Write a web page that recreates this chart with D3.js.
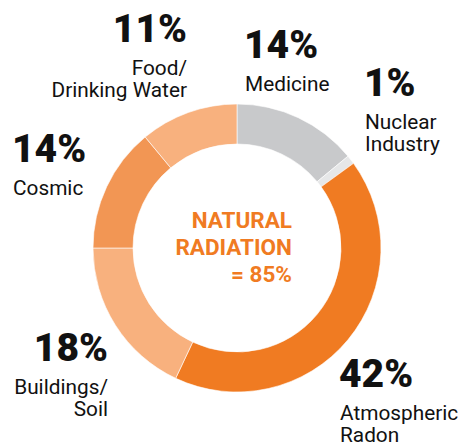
<!DOCTYPE html>
<html lang="en">
<head>
<meta charset="UTF-8">
<title>Radiation sources</title>
<script src="https://d3js.org/d3.v7.min.js"></script>
<style>
    body { margin: 0; background: #fff; }
    svg { display: block; }
    .pct { font-family: Roboto, sans-serif; font-weight: 900; font-size: 39px; fill: #111; }
    .lbl { font-family: Roboto, sans-serif; font-size: 20.8px; fill: #111; }
    .center { font-family: Roboto, sans-serif; font-weight: 700; font-size: 22.5px; fill: #f07b22; }
</style>
</head>
<body>
<div id="chart"></div>
<script>
    const width = 466, height = 446;

    // slices, clockwise from 12 o'clock
    const sources = ["Medicine", "Nuclear Industry", "Atmospheric Radon", "Buildings/Soil", "Cosmic", "Food/Drinking Water"];
    const shares = [14, 1, 42, 18, 14, 11];
    const colors = ["#c8c9cb", "#e6e7e8", "#f07b22", "#f8b17e", "#f29654", "#f8b17e"];

    // label text, lines of each label
    const labelLines = [["Medicine"], ["Nuclear", "Industry"], ["Atmospheric", "Radon"], ["Buildings/", "Soil"], ["Cosmic"], ["Food/", "Drinking Water"]];
    const centerLines = ["NATURAL", "RADIATION", "= 85%"];

    const cx = 237, cy = 248, rOuter = 144, rInner = 104;

    // where each label sits: x, baseline of percent, anchor
    const labelPos = [
        { x: 244, y: 58, anchor: "start" },
        { x: 364, y: 96, anchor: "start" },
        { x: 339, y: 387, anchor: "start" },
        { x: 108, y: 361, anchor: "end" },
        { x: 12, y: 162, anchor: "start" },
        { x: 187, y: 42, anchor: "end" }
    ];

    const svg = d3.select("#chart").append("svg")
        .attr("width", width)
        .attr("height", height);

    const pie = d3.pie().sort(null).value(d => d);
    const arc = d3.arc().innerRadius(rInner).outerRadius(rOuter);

    const g = svg.append("g").attr("transform", `translate(${cx},${cy})`);

    g.selectAll("path")
        .data(pie(shares))
        .enter()
        .append("path")
        .attr("d", arc)
        .attr("fill", (d, i) => colors[i])
        .attr("stroke", "#fff")
        .attr("stroke-width", 0.6);

    // centre text
    g.append("text")
        .attr("class", "center")
        .attr("text-anchor", "end")
        .selectAll("tspan")
        .data(centerLines)
        .enter()
        .append("tspan")
        .attr("x", 55)
        .attr("y", (d, i) => -20 + i * 27)
        .text(d => d);

    // outside labels
    const lab = svg.append("g")
        .selectAll("g")
        .data(sources)
        .enter()
        .append("g")
        .attr("transform", (d, i) => `translate(${labelPos[i].x},${labelPos[i].y})`);

    lab.append("text")
        .attr("class", "pct")
        .attr("text-anchor", (d, i) => labelPos[i].anchor)
        .text((d, i) => shares[i] + "%");

    lab.append("text")
        .attr("class", "lbl")
        .attr("text-anchor", (d, i) => labelPos[i].anchor)
        .attr("x", (d, i) => labelPos[i].anchor === "start" ? 1 : 0)
        .selectAll("tspan")
        .data((d, i) => labelLines[i])
        .enter()
        .append("tspan")
        .attr("x", function() { return d3.select(this.parentNode).attr("x"); })
        .attr("y", (d, i) => 33 + i * 21.5)
        .text(d => d);
</script>
</body>
</html>
